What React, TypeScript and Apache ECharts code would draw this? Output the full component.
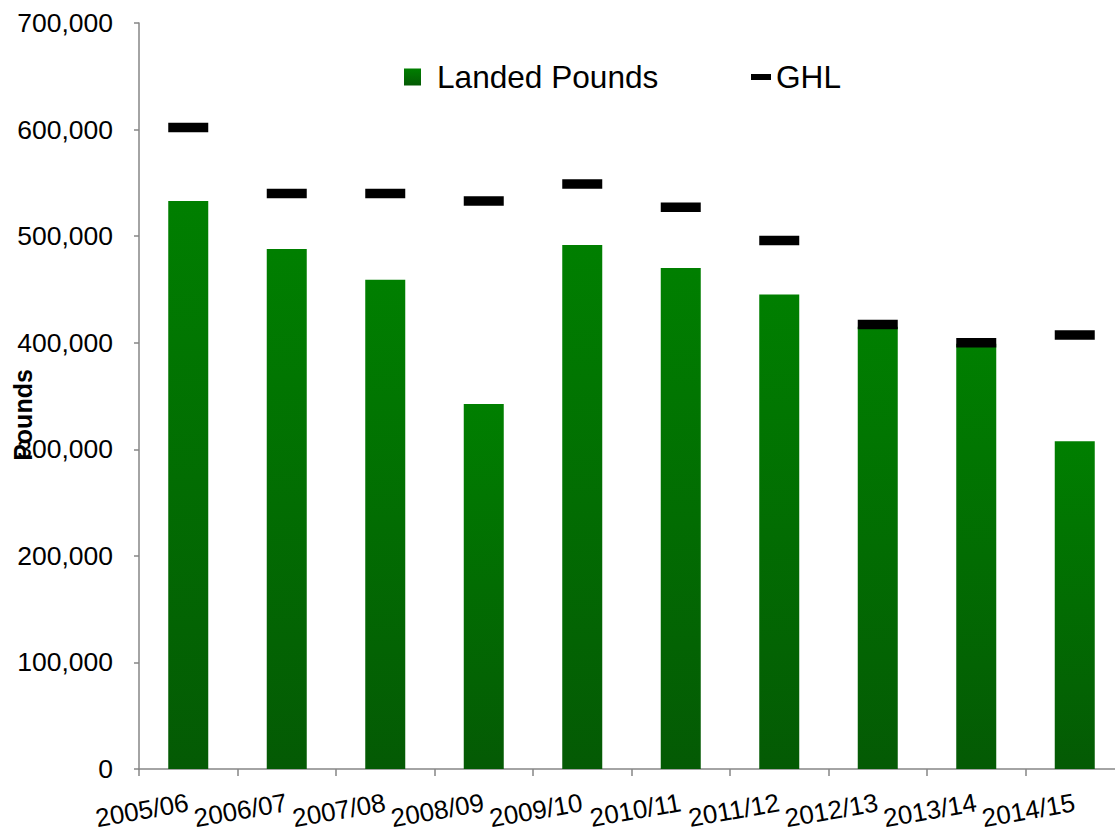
import React, { useEffect, useRef } from "react";
import * as echarts from "echarts";

const categories = ["2005/06", "2006/07", "2007/08", "2008/09", "2009/10", "2010/11", "2011/12", "2012/13", "2013/14", "2014/15"];
const landedPounds = [533000, 488000, 459000, 342500, 491600, 470000, 445300, 415000, 399000, 307500];
const ghl = [602000, 540000, 540000, 533000, 549000, 527200, 495800, 417200, 400000, 407200];
const yTicks = { min: 0, max: 700000, interval: 100000 };

const FONT = "'Liberation Sans', Arial, sans-serif";

export default function App() {
  const ref = useRef<HTMLDivElement>(null);
  useEffect(() => {
    if (!ref.current) return;
    const chart = echarts.init(ref.current, null, { renderer: "svg" });
    const barGrad = new echarts.graphic.LinearGradient(0, 0, 0, 1, [
      { offset: 0, color: "#007f00" },
      { offset: 1, color: "#045a04" },
    ]);
    chart.setOption({
      animation: false,
      backgroundColor: "#ffffff",
      textStyle: { fontFamily: FONT },
      grid: { left: 139, top: 23, bottom: 66, width: 985, containLabel: false, outerBoundsMode: "none" },
      legend: [
        {
          data: [{ name: "Landed Pounds", icon: "rect" }],
          left: 404,
          top: 61,
          padding: 0,
          itemWidth: 17,
          itemHeight: 17,
          textStyle: { fontSize: 31.6, color: "#000", fontFamily: FONT, padding: [0, 0, 0, 11] },
        },
        {
          data: [{ name: "GHL", icon: "rect" }],
          left: 751,
          top: 61,
          padding: 0,
          itemWidth: 20,
          itemHeight: 6,
          textStyle: { fontSize: 31.6, color: "#000", fontFamily: FONT },
        },
      ],
      xAxis: {
        type: "category",
        data: categories,
        boundaryGap: true,
        axisLine: { lineStyle: { color: "#868686", width: 1.5 } },
        axisTick: { show: true, length: 7, alignWithLabel: false, lineStyle: { color: "#868686", width: 1.5 } },
        axisLabel: { rotate: 10, margin: 33, fontSize: 26, color: "#000", fontFamily: FONT, interval: 0 },
        splitLine: { show: false },
      },
      yAxis: {
        type: "value",
        min: yTicks.min,
        max: yTicks.max,
        interval: yTicks.interval,
        axisLine: { show: true, lineStyle: { color: "#868686", width: 1.5 } },
        axisTick: { show: true, length: 5, lineStyle: { color: "#868686", width: 1.5 } },
        axisLabel: {
          margin: 26,
          fontSize: 26.5,
          color: "#000",
          fontFamily: FONT,
          formatter: (v: number) => v.toLocaleString("en-US"),
        },
        splitLine: { show: false },
      },
      graphic: [
        {
          type: "text",
          x: 23,
          y: 415,
          rotation: Math.PI / 2,
          style: {
            text: "Pounds",
            fontSize: 25,
            fontWeight: "bold",
            fontFamily: FONT,
            fill: "#000",
            align: "center",
            verticalAlign: "middle",
          },
          z: 10,
        },
      ],
      series: [
        {
          name: "Landed Pounds",
          type: "bar",
          data: landedPounds,
          barWidth: 40,
          itemStyle: { color: barGrad },
          z: 2,
        },
        {
          name: "GHL",
          type: "scatter",
          data: ghl,
          symbol: "rect",
          symbolSize: [40, 9.5],
          itemStyle: { color: "#000000", opacity: 1 },
          z: 5,
        },
      ],
    });
    return () => chart.dispose();
  }, []);
  return <div ref={ref} style={{ position: "absolute", left: 0, top: 0, width: 1115, height: 835 }} />;
}
